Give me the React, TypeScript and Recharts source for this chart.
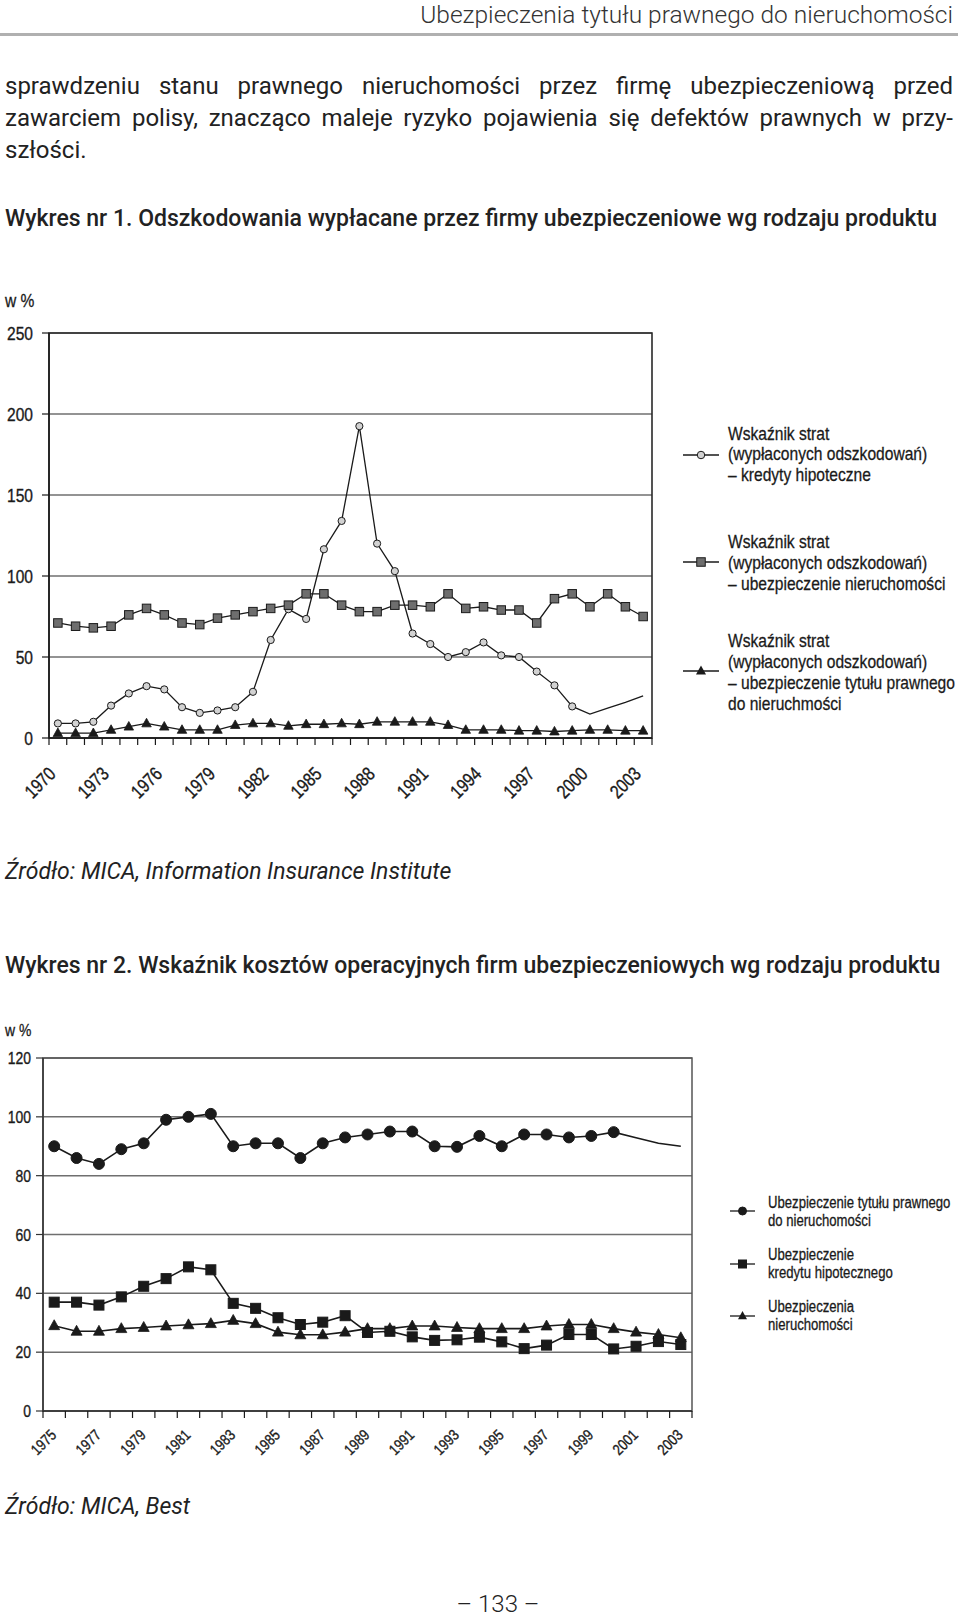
import React from 'react';
import { LineChart, Line, XAxis, YAxis, CartesianGrid, ReferenceArea } from 'recharts';

// ---------- Data: Wykres nr 1 ----------
const years1 = ['1970','1971','1972','1973','1974','1975','1976','1977','1978','1979','1980','1981','1982','1983','1984','1985','1986','1987','1988','1989','1990','1991','1992','1993','1994','1995','1996','1997','1998','1999','2000','2001','2002','2003'];
const kredyty1 = [9,9,10,20,27.5,32,30,19,15.5,17,19,28.5,60.5,79.5,73.5,116.5,134,192.5,120,103,64.5,58,50,53,59,51,50,41,32.5,19.5,14.8,18.5,22,26];
const nieruch1 = [71,69,68,69,76,80,76,71,70,74,76,78,80,82,89,89,82,78,78,82,82,81,89,80,81,79,79,71,86,89,81,89,81,75];
const tytul1 = [3,3,3,5,7,9,7,5,5,5,8,9,9,7.5,8.5,8.5,9,8.5,10,10,10,10,8,5,5,5,4.5,4.5,4,4.5,5,5,4.5,4.5];
const yTicks1 = [0,50,100,150,200,250];
const lastMarked1 = '1999';

// ---------- Data: Wykres nr 2 ----------
const years2 = ['1975','1976','1977','1978','1979','1980','1981','1982','1983','1984','1985','1986','1987','1988','1989','1990','1991','1992','1993','1994','1995','1996','1997','1998','1999','2000','2001','2002','2003'];
const tytul2 = [90,86,84,89,91,99,100,101,90,91,91,86,91,93,94,95,95,90,89.8,93.5,90,94,94,93,93.5,94.8,92.9,91,90];
const kredyt2 = [37,37,36,38.8,42.4,45,49,48,36.6,34.9,31.7,29.4,30.2,32.4,26.7,27.1,25.2,24,24.2,25.1,23.5,21.2,22.4,26,26,21.1,22,23.6,22.6];
const nieruch2 = [29,27.1,27.1,28,28.4,28.9,29.3,29.7,30.8,29.7,26.8,25.9,25.9,26.8,28,28,28.9,28.9,28.4,28,28,28,28.9,29.4,29.4,28,26.8,26,24.9];
const yTicks2 = [0,20,40,60,80,100,120];
const lastMarked2 = '2000';

const data1 = years1.map((y, i) => ({ year: y, kredyty: kredyty1[i], nieruch: nieruch1[i], tytul: tytul1[i] }));
const data2 = years2.map((y, i) => ({ year: y, tytul: tytul2[i], kredyt: kredyt2[i], nieruch: nieruch2[i] }));

const SANS = '"Liberation Sans", Arial, sans-serif';
const SX = 0.82; // narrow width factor (Helvetica Condensed look)
const BODY = 'Roboto, "Noto Sans", sans-serif';
const INK = '#1a1a1a';

// ---------- Layout ----------
const C1 = { top: 300, width: 960, height: 520, left: 49, right: 308, mTop: 33, xH: 70, mBottom: 12 };
const C2 = { top: 1030, width: 960, height: 440, left: 43, right: 268, mTop: 28, xH: 50, mBottom: 9 };
const bw1 = (C1.width - C1.left - C1.right) / years1.length;
const bw2 = (C2.width - C2.left - C2.right) / years2.length;

// ---------- Markers ----------
const circleDot = (r: number, fill: string, last?: string) => (p: any) => {
  const { cx, cy, payload, index } = p;
  if (last && Number(payload.year) > Number(last)) return <g key={`c${index}`} />;
  return <circle key={`c${index}`} cx={cx} cy={cy} r={r} fill={fill} stroke={INK} strokeWidth={1} />;
};
const squareDot = (s: number, fill: string) => (p: any) => {
  const { cx, cy, index } = p;
  return <rect key={`s${index}`} x={cx - s / 2} y={cy - s / 2} width={s} height={s} fill={fill} stroke={INK} strokeWidth={1} />;
};
const triDot = (s: number) => (p: any) => {
  const { cx, cy, index } = p;
  const h = s * 0.9;
  return <polygon key={`t${index}`} points={`${cx},${cy - h * 0.6} ${cx - s / 2},${cy + h * 0.4} ${cx + s / 2},${cy + h * 0.4}`} fill={INK} stroke={INK} strokeWidth={0.8} />;
};

const NText = ({ x, y, rot = 0, size, anchor = 'end', dy = 0, children }: any) => (
  <text transform={`translate(${x} ${y}) rotate(${rot}) scale(${SX} 1)`} x={0} y={0} dy={dy} textAnchor={anchor}
    fontFamily={SANS} fontSize={size} fill={INK} stroke={INK} strokeWidth={0.35}>
    {children}
  </text>
);

const makeXTick = (o: { every: number; fontSize: number; dx: number; dy: number; bw: number; n: number; len: number }) => (props: any) => {
  const { x, y, payload, index } = props;
  return (
    <g>
      <line x1={x - o.bw / 2} x2={x - o.bw / 2} y1={y} y2={y + o.len} stroke={INK} strokeWidth={1.2} />
      {index === o.n - 1 && <line x1={x + o.bw / 2} x2={x + o.bw / 2} y1={y} y2={y + o.len} stroke={INK} strokeWidth={1.2} />}
      {index % o.every === 0 && <NText x={x + o.dx} y={y + o.dy} rot={-45} size={o.fontSize}>{payload.value}</NText>}
    </g>
  );
};

const makeYTick = (size: number) => (props: any) => {
  const { x, y, payload } = props;
  return <NText x={x} y={y} size={size} dy="0.36em">{payload.value}</NText>;
};

const abs = (top: number, left: number, extra: React.CSSProperties = {}): React.CSSProperties => ({ position: 'absolute', top, left, margin: 0, whiteSpace: 'nowrap', ...extra });

const LegendSwatch = ({ kind, fill, top, left, w, size }: { kind: string; fill: string; top: number; left: number; w: number; size: number }) => (
  <svg style={{ position: 'absolute', top: top - 8, left }} width={w} height={16}>
    <line x1={0} x2={w} y1={8} y2={8} stroke={INK} strokeWidth={1.3} />
    {kind === 'circle' && <circle cx={w / 2} cy={8} r={size / 2} fill={fill} stroke={INK} />}
    {kind === 'square' && <rect x={w / 2 - size / 2} y={8 - size / 2} width={size} height={size} fill={fill} stroke={INK} />}
    {kind === 'tri' && <polygon points={`${w / 2},${8 - size * 0.55} ${w / 2 - size / 2},${8 + size * 0.35} ${w / 2 + size / 2},${8 + size * 0.35}`} fill={INK} />}
  </svg>
);

const narrowBox = (top: number, left: number, size: number, lh: number): React.CSSProperties =>
  abs(top, left, { fontFamily: SANS, fontSize: size, lineHeight: `${lh}px`, color: INK, transform: `scaleX(${SX})`, transformOrigin: 'left top', WebkitTextStroke: '0.3px #1a1a1a' } as React.CSSProperties);

const LegendText = ({ lines, top, left, size, lh }: { lines: string[]; top: number; left: number; size: number; lh: number }) => (
  <div style={narrowBox(top - lh / 2, left, size, lh)}>
    {lines.map((l, i) => <div key={i}>{l}</div>)}
  </div>
);

export default function App() {
  const para: React.CSSProperties = { fontFamily: BODY, fontSize: 24, lineHeight: '32px', color: '#222', width: 948, textAlign: 'justify', textAlignLast: 'justify' as any };
  return (
    <div style={{ position: 'absolute', left: 0, top: 0, width: 960, height: 1617, background: '#fff', overflow: 'hidden' }}>
      {/* header */}
      <div style={abs(1, 0, { width: 953, textAlign: 'right', fontFamily: BODY, fontSize: 24.5, lineHeight: '28px', color: '#333', fontWeight: 300 })}>
        Ubezpieczenia tytułu prawnego do nieruchomości
      </div>
      <div style={abs(33, 0, { width: 958, height: 3, background: '#b0b0b0' })} />

      {/* paragraph */}
      <div style={abs(70, 5, para)}>sprawdzeniu stanu prawnego nieruchomości przez firmę ubezpieczeniową przed</div>
      <div style={abs(102, 5, para)}>zawarciem polisy, znacząco maleje ryzyko pojawienia się defektów prawnych w przy-</div>
      <div style={abs(134, 5, { ...para, textAlign: 'left', textAlignLast: 'left' as any })}>szłości.</div>

      <div style={abs(203, 5, { fontFamily: BODY, fontSize: 23, lineHeight: '32px', fontWeight: 500, color: '#222' })}>
        Wykres nr 1. Odszkodowania wypłacane przez firmy ubezpieczeniowe wg rodzaju produktu
      </div>

      <div style={narrowBox(290, 5, 19, 22)}>w %</div>

      <div style={abs(C1.top, 0)}>
        <LineChart width={C1.width} height={C1.height} data={data1} margin={{ top: C1.mTop, right: C1.right, bottom: C1.mBottom, left: 0 }}>
          <CartesianGrid horizontal vertical={false} stroke="#6f6f6f" strokeWidth={1.5} />
          <ReferenceArea y1={0} y2={250} fill="none" stroke="#2a2a2a" strokeWidth={1.6} ifOverflow="visible" />
          <XAxis dataKey="year" type="category" scale="band" interval={0} height={C1.xH} tickLine={false} tickSize={0} tickMargin={0}
            axisLine={{ stroke: INK, strokeWidth: 1.5 }}
            tick={makeXTick({ every: 3, fontSize: 19, dx: -1, dy: 37, bw: bw1, n: years1.length, len: 7 })} />
          <YAxis width={C1.left} domain={[0, 250]} ticks={yTicks1} interval={0} tickSize={7} tickMargin={9}
            axisLine={{ stroke: INK, strokeWidth: 1.5 }} tickLine={{ stroke: INK, strokeWidth: 1.2 }}
            tick={makeYTick(19)} />
          <Line type="linear" dataKey="kredyty" stroke={INK} strokeWidth={1.3} isAnimationActive={false} dot={circleDot(3.6, '#d2d2d2', lastMarked1)} activeDot={false} />
          <Line type="linear" dataKey="nieruch" stroke={INK} strokeWidth={1.3} isAnimationActive={false} dot={squareDot(8.5, '#6e6e6e')} activeDot={false} />
          <Line type="linear" dataKey="tytul" stroke={INK} strokeWidth={1.3} isAnimationActive={false} dot={triDot(9.5)} activeDot={false} />
        </LineChart>
      </div>

      {/* legend 1 */}
      <LegendSwatch kind="circle" fill="#d2d2d2" top={455} left={683} w={36} size={7.5} />
      <LegendText lines={['Wskaźnik strat', '(wypłaconych odszkodowań)', '– kredyty hipoteczne']} top={434} left={728} size={19} lh={20.5} />
      <LegendSwatch kind="square" fill="#6e6e6e" top={562} left={683} w={36} size={8.5} />
      <LegendText lines={['Wskaźnik strat', '(wypłaconych odszkodowań)', '– ubezpieczenie nieruchomości']} top={541} left={728} size={19} lh={21} />
      <LegendSwatch kind="tri" fill={INK} top={671} left={683} w={36} size={10} />
      <LegendText lines={['Wskaźnik strat', '(wypłaconych odszkodowań)', '– ubezpieczenie tytułu prawnego', 'do nieruchmości']} top={640} left={728} size={19} lh={21} />

      <div style={abs(857, 5, { fontFamily: BODY, fontSize: 23, lineHeight: '30px', fontStyle: 'italic', color: '#222' })}>
        Źródło: MICA, Information Insurance Institute
      </div>

      <div style={abs(950, 5, { fontFamily: BODY, fontSize: 23, lineHeight: '32px', fontWeight: 500, color: '#222' })}>
        Wykres nr 2. Wskaźnik kosztów operacyjnych firm ubezpieczeniowych wg rodzaju produktu
      </div>

      <div style={narrowBox(1021, 5, 17, 20)}>w %</div>

      <div style={abs(C2.top, 0)}>
        <LineChart width={C2.width} height={C2.height} data={data2} margin={{ top: C2.mTop, right: C2.right, bottom: C2.mBottom, left: 0 }}>
          <CartesianGrid horizontal vertical={false} stroke="#6f6f6f" strokeWidth={1.5} />
          <ReferenceArea y1={0} y2={120} fill="none" stroke="#555" strokeWidth={1.5} ifOverflow="visible" />
          <XAxis dataKey="year" type="category" scale="band" interval={0} height={C2.xH} tickLine={false} tickSize={0} tickMargin={0}
            axisLine={{ stroke: '#333', strokeWidth: 1.5 }}
            tick={makeXTick({ every: 2, fontSize: 15.5, dx: 3, dy: 25, bw: bw2, n: years2.length, len: 7 })} />
          <YAxis width={C2.left} domain={[0, 120]} ticks={yTicks2} interval={0} tickSize={7} tickMargin={5}
            axisLine={{ stroke: '#333', strokeWidth: 1.5 }} tickLine={{ stroke: '#333', strokeWidth: 1.2 }}
            tick={makeYTick(17)} />
          <Line type="linear" dataKey="tytul" stroke={INK} strokeWidth={1.6} isAnimationActive={false} dot={circleDot(5.5, INK, lastMarked2)} activeDot={false} />
          <Line type="linear" dataKey="kredyt" stroke={INK} strokeWidth={1.6} isAnimationActive={false} dot={squareDot(10, INK)} activeDot={false} />
          <Line type="linear" dataKey="nieruch" stroke={INK} strokeWidth={1.6} isAnimationActive={false} dot={triDot(11)} activeDot={false} />
        </LineChart>
      </div>

      {/* legend 2 */}
      <LegendSwatch kind="circle" fill={INK} top={1211} left={730} w={25} size={8} />
      <LegendText lines={['Ubezpieczenie tytułu prawnego', 'do nieruchomości']} top={1203} left={768} size={16} lh={17.5} />
      <LegendSwatch kind="square" fill={INK} top={1264} left={730} w={25} size={8} />
      <LegendText lines={['Ubezpieczenie', 'kredytu hipotecznego']} top={1255} left={768} size={16} lh={17.5} />
      <LegendSwatch kind="tri" fill={INK} top={1316} left={730} w={25} size={9} />
      <LegendText lines={['Ubezpieczenia', 'nieruchomości']} top={1307} left={768} size={16} lh={17.5} />

      <div style={abs(1492, 5, { fontFamily: BODY, fontSize: 23, lineHeight: '30px', fontStyle: 'italic', color: '#222' })}>
        Źródło: MICA, Best
      </div>

      <div style={abs(1588, 0, { width: 996, textAlign: 'center', fontFamily: BODY, fontSize: 24, lineHeight: '32px', color: '#222', fontWeight: 300 })}>
        – 133 –
      </div>
    </div>
  );
}
